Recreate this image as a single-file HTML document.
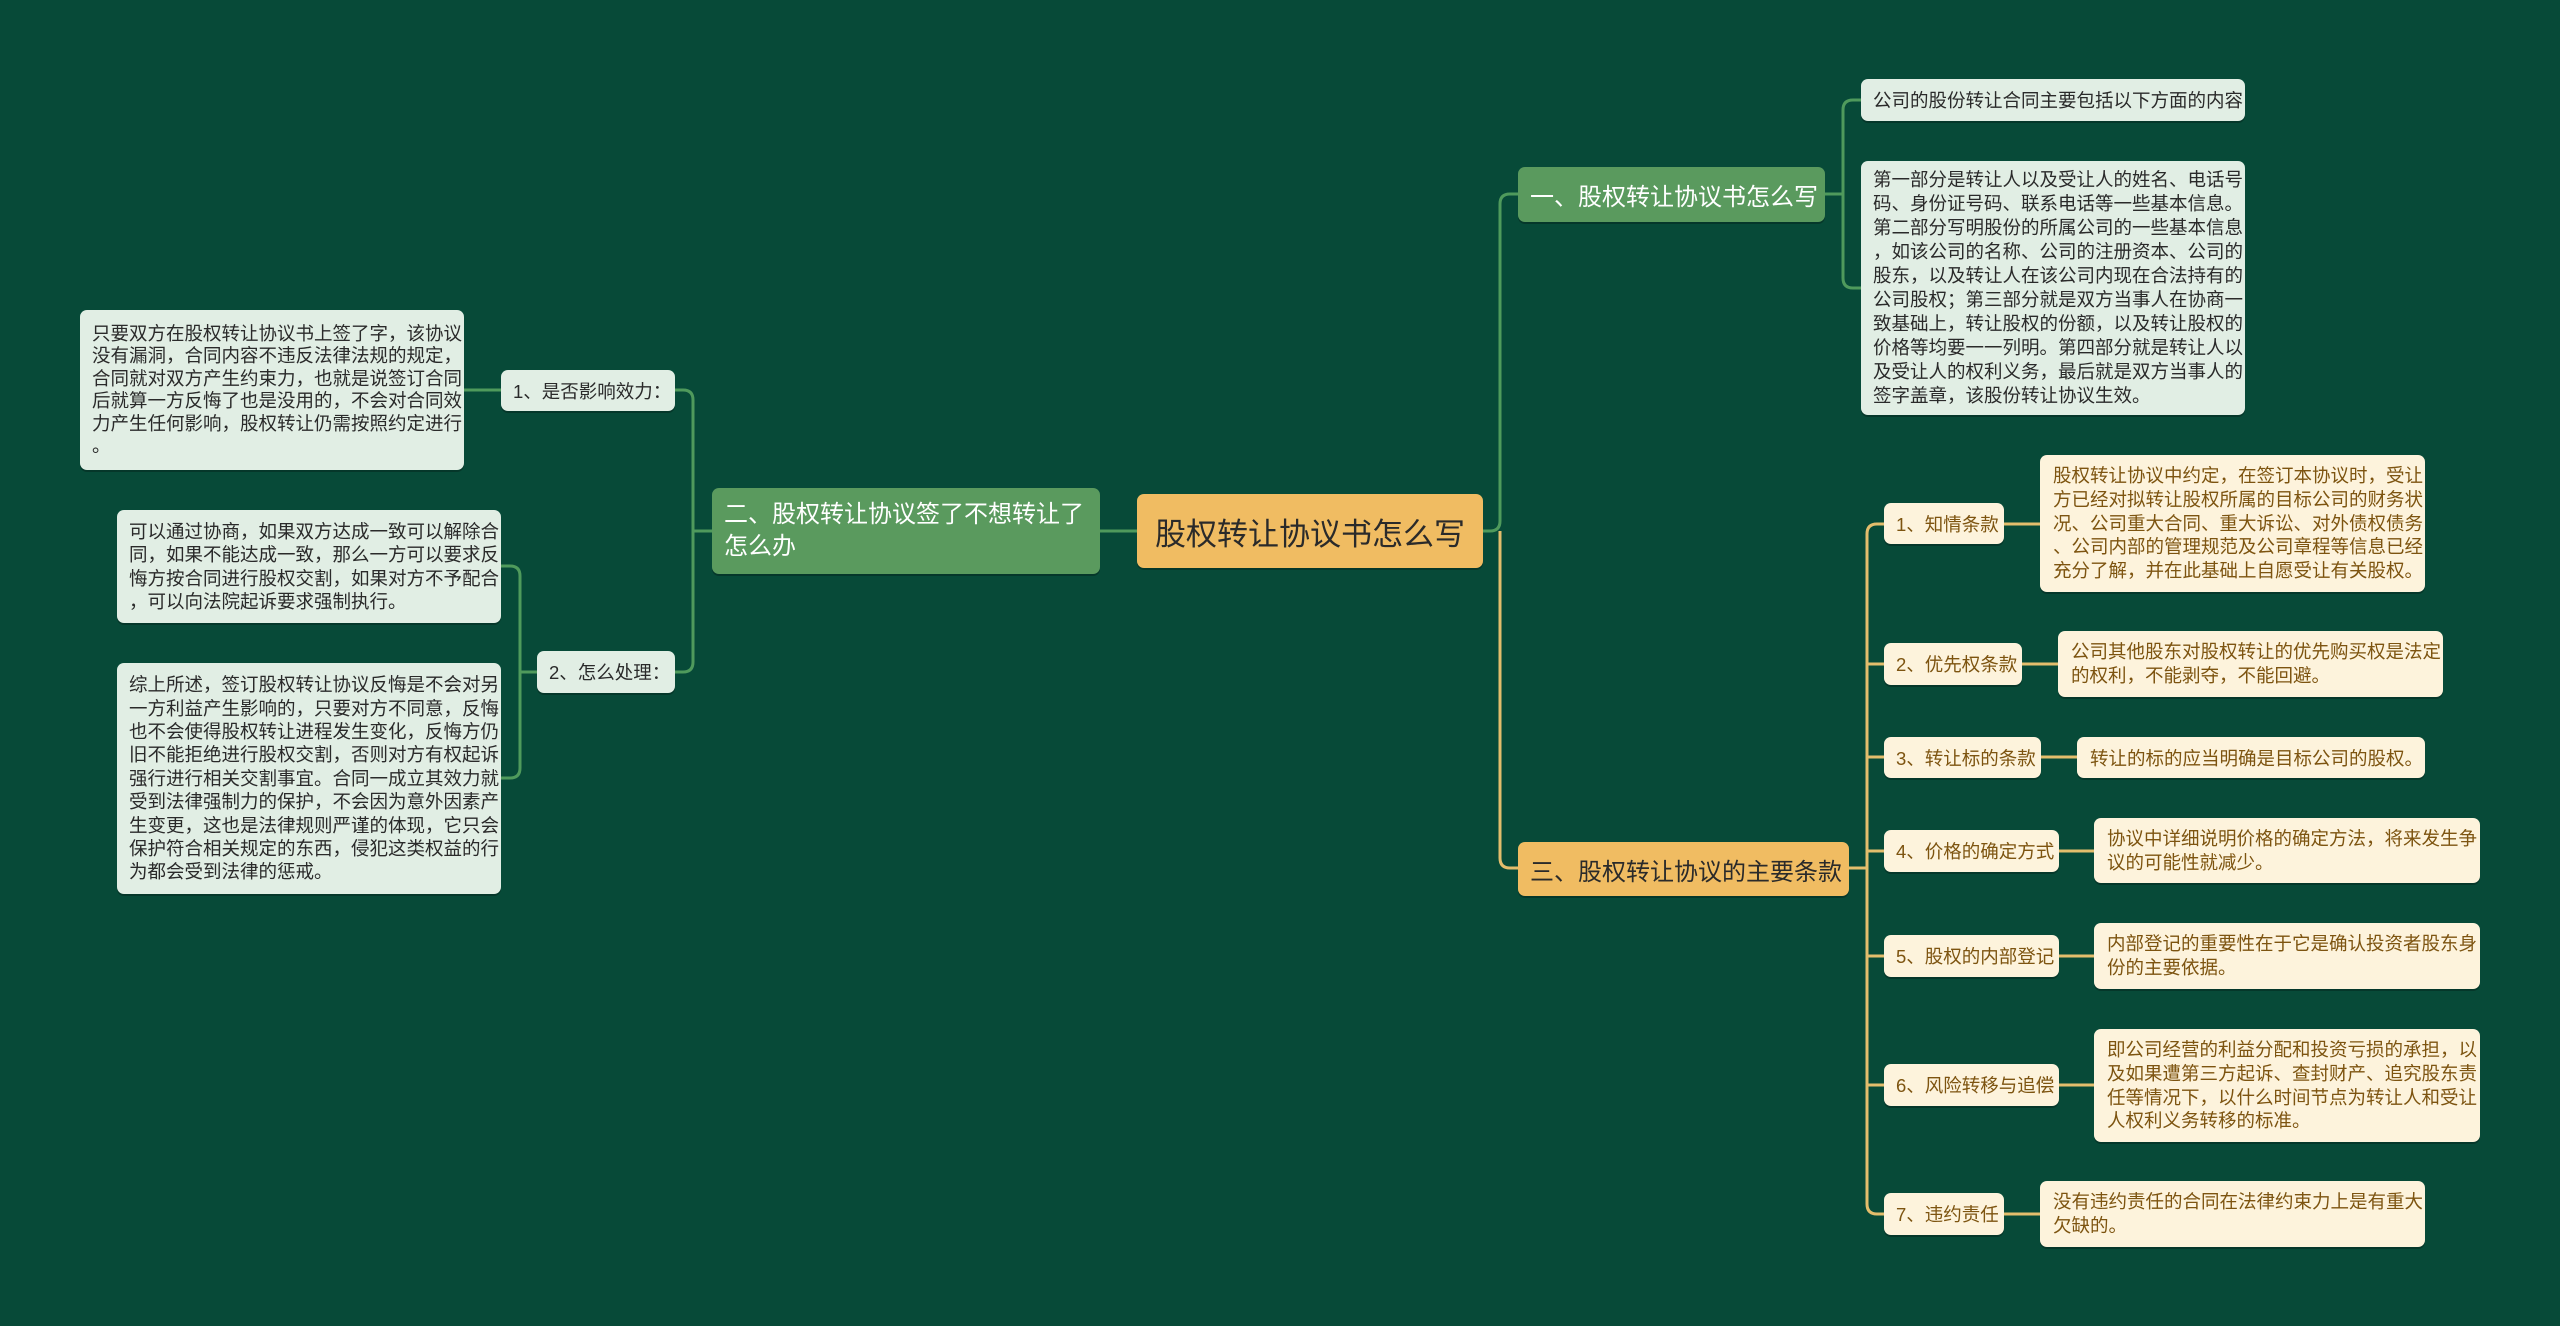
<!DOCTYPE html>
<html><head><meta charset="utf-8"><style>
html,body{margin:0;padding:0}
body{width:2560px;height:1326px;background:#074a38;position:relative;overflow:hidden;font-family:"Liberation Sans","Noto Sans CJK SC",sans-serif}
.n{position:absolute;box-sizing:border-box;border-radius:7px;display:flex;align-items:center;white-space:nowrap;box-shadow:0 2px 0 rgba(0,0,0,0.25)}
.lg{background:#e1eee4;color:#2a2a2a;font-size:18.5px;padding:0 12px}
.lo{background:#fdf3dc;color:#7d5410;font-size:18.5px;padding:0 13px}
.sg{background:#e1eee4;color:#2a2a2a;font-size:18.5px;padding:0 12px}
.so{background:#fdf3dc;color:#7d5410;font-size:18.5px;padding:0 12px}
svg{position:absolute;left:0;top:0}
</style></head><body>
<svg width="2560" height="1326" fill="none" stroke-width="3">
<g stroke="#4f9a5c">
<path d="M1483 531 H1490 Q1500 531 1500 521 V204 Q1500 194 1510 194 H1519"/>
<path d="M1137 531 H1100"/>
<path d="M1825 194 H1843"/>
<path d="M1861 100 H1853 Q1843 100 1843 110 V278 Q1843 288 1853 288 H1861"/>
<path d="M712 531 H693"/>
<path d="M675 390 H683 Q693 390 693 400 V662 Q693 672 683 672 H675"/>
<path d="M501 390 H464"/>
<path d="M537 672 H520"/>
<path d="M501 566 H510 Q520 566 520 576 V768 Q520 778 510 778 H501"/>
</g>
<g stroke="#e3bd6c">
<path d="M1500 531 V858 Q1500 868 1510 868 H1519"/>
<path d="M1849 868 H1867"/>
<path d="M1884 524 H1877 Q1867 524 1867 534 V1204 Q1867 1214 1877 1214 H1884"/>
<path d="M1867 664 H1884 M1867 757 H1884 M1867 851 H1884 M1867 956 H1884 M1867 1085 H1884"/>
<path d="M2004 524 H2040 M2022 664 H2058 M2041 757 H2077 M2059 851 H2094 M2059 956 H2094 M2059 1085 H2094 M2004 1214 H2040"/>
</g>
</svg>

<div class="n" style="left:1137px;top:494px;width:346px;height:74px;background:#f0bc62;color:#2a2a2a;font-size:31px;padding:0 14px;justify-content:center">股权转让协议书怎么写</div>

<div class="n" style="left:1518px;top:167px;width:307px;height:55px;background:#5a9a5e;color:#fff;font-size:24px;padding:0 12px">一、股权转让协议书怎么写</div>
<div class="n lg" style="left:1861px;top:79px;width:384px;height:42px">公司的股份转让合同主要包括以下方面的内容</div>
<div class="n lg" style="left:1861px;top:161px;width:384px;height:254px;line-height:24px">第一部分是转让人以及受让人的姓名、电话号<br>码、身份证号码、联系电话等一些基本信息。<br>第二部分写明股份的所属公司的一些基本信息<br>，如该公司的名称、公司的注册资本、公司的<br>股东，以及转让人在该公司内现在合法持有的<br>公司股权；第三部分就是双方当事人在协商一<br>致基础上，转让股权的份额，以及转让股权的<br>价格等均要一一列明。第四部分就是转让人以<br>及受让人的权利义务，最后就是双方当事人的<br>签字盖章，该股份转让协议生效。</div>

<div class="n" style="left:712px;top:488px;width:388px;height:86px;background:#5a9a5e;color:#fff;font-size:24px;padding:0 12px;line-height:32px">二、股权转让协议签了不想转让了<br>怎么办</div>
<div class="n sg" style="left:501px;top:370px;width:174px;height:41px">1、是否影响效力：</div>
<div class="n lg" style="left:80px;top:310px;width:384px;height:160px;line-height:22.5px">只要双方在股权转让协议书上签了字，该协议<br>没有漏洞，合同内容不违反法律法规的规定，<br>合同就对双方产生约束力，也就是说签订合同<br>后就算一方反悔了也是没用的，不会对合同效<br>力产生任何影响，股权转让仍需按照约定进行<br>。</div>
<div class="n sg" style="left:537px;top:651px;width:138px;height:42px">2、怎么处理：</div>
<div class="n lg" style="left:117px;top:510px;width:384px;height:113px;line-height:23.4px">可以通过协商，如果双方达成一致可以解除合<br>同，如果不能达成一致，那么一方可以要求反<br>悔方按合同进行股权交割，如果对方不予配合<br>，可以向法院起诉要求强制执行。</div>
<div class="n lg" style="left:117px;top:663px;width:384px;height:231px;line-height:23.4px">综上所述，签订股权转让协议反悔是不会对另<br>一方利益产生影响的，只要对方不同意，反悔<br>也不会使得股权转让进程发生变化，反悔方仍<br>旧不能拒绝进行股权交割，否则对方有权起诉<br>强行进行相关交割事宜。合同一成立其效力就<br>受到法律强制力的保护，不会因为意外因素产<br>生变更，这也是法律规则严谨的体现，它只会<br>保护符合相关规定的东西，侵犯这类权益的行<br>为都会受到法律的惩戒。</div>

<div class="n" style="left:1518px;top:842px;width:331px;height:54px;background:#f0bc62;color:#2a2a2a;font-size:24px;padding:0 12px">三、股权转让协议的主要条款</div>
<div class="n so" style="left:1884px;top:503px;width:120px;height:41px">1、知情条款</div>
<div class="n lo" style="left:2040px;top:455px;width:385px;height:137px;line-height:23.7px">股权转让协议中约定，在签订本协议时，受让<br>方已经对拟转让股权所属的目标公司的财务状<br>况、公司重大合同、重大诉讼、对外债权债务<br>、公司内部的管理规范及公司章程等信息已经<br>充分了解，并在此基础上自愿受让有关股权。</div>
<div class="n so" style="left:1884px;top:643px;width:138px;height:42px">2、优先权条款</div>
<div class="n lo" style="left:2058px;top:631px;width:385px;height:66px;line-height:23.7px">公司其他股东对股权转让的优先购买权是法定<br>的权利，不能剥夺，不能回避。</div>
<div class="n so" style="left:1884px;top:737px;width:157px;height:41px">3、转让标的条款</div>
<div class="n lo" style="left:2077px;top:737px;width:348px;height:41px">转让的标的应当明确是目标公司的股权。</div>
<div class="n so" style="left:1884px;top:830px;width:175px;height:42px">4、价格的确定方式</div>
<div class="n lo" style="left:2094px;top:818px;width:386px;height:65px;line-height:23.7px">协议中详细说明价格的确定方法，将来发生争<br>议的可能性就减少。</div>
<div class="n so" style="left:1884px;top:935px;width:175px;height:42px">5、股权的内部登记</div>
<div class="n lo" style="left:2094px;top:923px;width:386px;height:66px;line-height:23.7px">内部登记的重要性在于它是确认投资者股东身<br>份的主要依据。</div>
<div class="n so" style="left:1884px;top:1064px;width:175px;height:42px">6、风险转移与追偿</div>
<div class="n lo" style="left:2094px;top:1029px;width:386px;height:113px;line-height:23.7px">即公司经营的利益分配和投资亏损的承担，以<br>及如果遭第三方起诉、查封财产、追究股东责<br>任等情况下，以什么时间节点为转让人和受让<br>人权利义务转移的标准。</div>
<div class="n so" style="left:1884px;top:1193px;width:120px;height:42px">7、违约责任</div>
<div class="n lo" style="left:2040px;top:1181px;width:385px;height:66px;line-height:23.7px">没有违约责任的合同在法律约束力上是有重大<br>欠缺的。</div>
</body></html>
